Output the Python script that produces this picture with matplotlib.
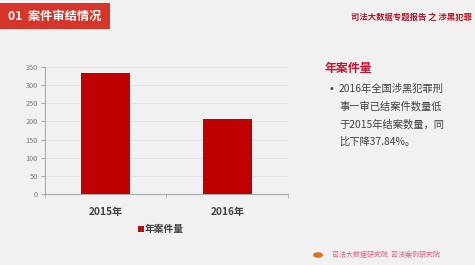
import matplotlib.pyplot as plt
from matplotlib.patches import Rectangle, Circle

plt.rcParams['font.family'] = ['Noto Sans CJK SC', 'DejaVu Sans']

# data
years = ["2015年", "2016年"]
cases = [333, 207]
yticks = [0, 50, 100, 150, 200, 250, 300, 350]
series_name = "年案件量"

W, H = 475, 265
fig = plt.figure(figsize=(W / 100, H / 100), dpi=100)
fig.patch.set_facecolor("#f2f1f1")

# header bar
fig.patches.append(Rectangle((0, 1 - 29 / H), 110 / W, 26 / H, transform=fig.transFigure,
                             facecolor="#d8352a", edgecolor="none"))
fig.text(8 / W, 1 - 16 / H, "01  案件审结情况", color="white", fontsize=8.8,
         fontweight="bold", va="center", ha="left")
fig.text(472 / W, 1 - 17 / H, "司法大数据专题报告 之 涉黑犯罪", color="#b0182a",
         fontsize=6, fontweight="bold", va="center", ha="right")

# chart
ax = fig.add_axes([45 / W, 1 - 194 / H, 243 / W, 127 / H])
ax.set_facecolor("#f2f1f1")
x = list(range(len(years)))
ax.bar(x, cases, width=0.4, color="#c00000", zorder=3)
ax.set_xlim(-0.5, 1.5)
ax.set_ylim(0, 350)
ax.set_yticks(yticks)
ax.set_yticklabels([str(v) for v in yticks], fontsize=5.3, color="#777777")
ax.set_xticks(x)
ax.set_xticklabels(years, fontsize=7.3, fontweight="bold", color="#404040")
ax.set_xticks([-0.5, 0.5, 1.5], minor=True)
ax.tick_params(axis="x", which="major", length=0, pad=9)
ax.tick_params(axis="x", which="minor", length=3, color="#aaaaaa")
ax.tick_params(axis="y", length=3, color="#aaaaaa", pad=2)
ax.grid(axis="y", color="#e2e0e0", linewidth=0.7, zorder=0)
for s in ["top", "right"]:
    ax.spines[s].set_visible(False)
for s in ["left", "bottom"]:
    ax.spines[s].set_color("#aaaaaa")
    ax.spines[s].set_linewidth(0.8)

# legend
fig.patches.append(Rectangle((138 / W, 1 - 232 / H), 6 / W, 6 / H, transform=fig.transFigure,
                             facecolor="#b01010", edgecolor="none"))
fig.text(145 / W, 1 - 229 / H, series_name, fontsize=7, fontweight="bold",
         color="#404040", va="center", ha="left")

# right text
fig.text(325 / W, 1 - 69 / H, series_name, fontsize=8.6, fontweight="bold",
         color="#c8102e", va="center", ha="left")
fig.text(329 / W, 1 - 89 / H, "•", fontsize=7, color="#404040", va="center", ha="left",
         family="DejaVu Sans")
lines = ["2016年全国涉黑犯罪刑", "事一审已结案件数量低", "于2015年结案数量，同", "比下降37.84%。"]
for i, line in enumerate(lines):
    fig.text(339 / W, 1 - (89 + 17.7 * i) / H, line, fontsize=7.4, color="#404040",
             va="center", ha="left")

# footer
fig.patches.append(Circle((318 / W, 1 - 255 / H), 5 / W, transform=fig.transFigure,
                          facecolor="#e07020", edgecolor="none"))
fig.text(332 / W, 1 - 255 / H, "司法大数据研究院  司法案例研究院", fontsize=5,
         color="#e06080", va="center", ha="left")

fig.savefig("out.png", dpi=100, facecolor=fig.get_facecolor())
